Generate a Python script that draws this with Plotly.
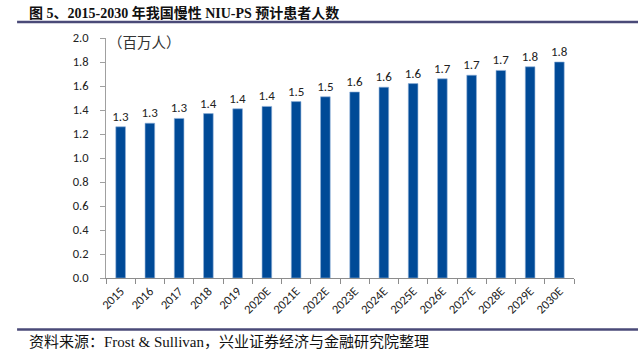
import plotly.graph_objects as go

years = ["2015", "2016", "2017", "2018", "2019", "2020E", "2021E", "2022E",
         "2023E", "2024E", "2025E", "2026E", "2027E", "2028E", "2029E", "2030E"]
patients = [1.26, 1.29, 1.33, 1.37, 1.41, 1.43, 1.47, 1.51,
            1.55, 1.59, 1.62, 1.66, 1.69, 1.73, 1.76, 1.80]
y_ticks = [0.0, 0.2, 0.4, 0.6, 0.8, 1.0, 1.2, 1.4, 1.6, 1.8, 2.0]

title_text = "图 5、2015-2030 年我国慢性 NIU-PS 预计患者人数"
unit_text = "（百万人）"
source_text = "资料来源：Frost &amp; Sullivan，兴业证券经济与金融研究院整理"

sans = "Carlito, Calibri, 'Liberation Sans', 'Noto Sans CJK SC', sans-serif"
serif = "'Liberation Serif', 'Times New Roman', 'Noto Sans CJK SC', serif"

fig = go.Figure(go.Bar(
    x=years, y=patients,
    marker=dict(color="#004A97", line=dict(color="#8FB0D8", width=0.6)),
    text=[f"{v:.1f}" for v in patients],
    textposition="outside",
    constraintext="none",
    textfont=dict(size=13, color="#222222", family=sans),
    cliponaxis=False,
    width=0.33,
))

fig.update_layout(
    width=638, height=361,
    margin=dict(l=106, r=64, t=38, b=83, autoexpand=False),
    paper_bgcolor="white", plot_bgcolor="white",
    showlegend=False,
    xaxis=dict(
        type="category", tickangle=-45, automargin=False,
        tickfont=dict(size=12.5, color="#222222", family=sans),
        showline=True, linecolor="#8C8C8C", linewidth=1,
        ticks="outside", ticklen=5, tickcolor="#8C8C8C", tickson="boundaries",
        showgrid=False,
    ),
    yaxis=dict(
        range=[0, 2.0], tickvals=y_ticks, automargin=False,
        ticktext=[f"{v:.1f}" for v in y_ticks],
        tickfont=dict(size=12.5, color="#222222", family=sans),
        ticklabelstandoff=9,
        showline=True, linecolor="#A0A0A0", linewidth=1,
        ticks="outside", ticklen=5, tickcolor="#A0A0A0",
        showgrid=False, zeroline=False,
    ),
    shapes=[
        dict(type="line", xref="paper", yref="paper", x0=-0.19, x1=1.15,
             y0=1.067, y1=1.067, line=dict(color="#4A4A78", width=2.5)),
        dict(type="line", xref="paper", yref="paper", x0=-0.19, x1=1.15,
             y0=-0.215, y1=-0.215, line=dict(color="#4A4A78", width=2.5)),
    ],
    annotations=[
        dict(text="<b>" + title_text + "</b>", xref="paper", yref="paper",
             x=-0.169, y=1.104, xanchor="left", yanchor="middle", showarrow=False,
             font=dict(size=14, color="#111111", family=serif)),
        dict(text=unit_text, xref="paper", yref="paper",
             x=0.0, y=0.98, xanchor="left", yanchor="middle", showarrow=False,
             font=dict(size=14.5, color="#333333", family=sans)),
        dict(text=source_text, xref="paper", yref="paper",
             x=-0.169, y=-0.265, xanchor="left", yanchor="middle", showarrow=False,
             font=dict(size=15, color="#111111", family=serif)),
    ],
)

fig.write_html("out.html", config={"displayModeBar": False},
               post_script="document.body.style.margin='0';")
